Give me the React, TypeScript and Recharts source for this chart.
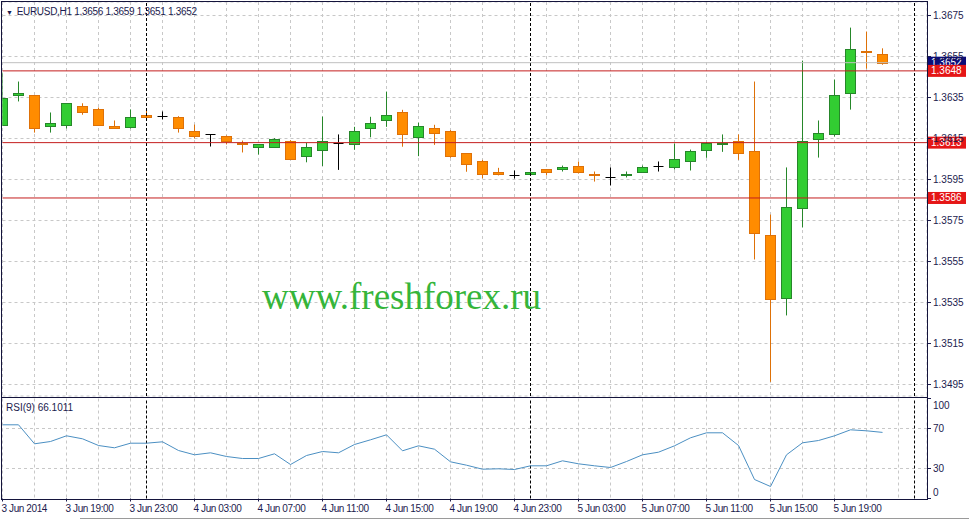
import React from "react";
import {
  ComposedChart,
  Bar,
  Line,
  XAxis,
  YAxis,
  CartesianGrid,
  ReferenceLine,
} from "recharts";

// EURUSD H1, one bar per hour from 3 Jun 15:00 to 5 Jun 22:00
const opens = [
  1.36218, 1.3636, 1.3636, 1.36209, 1.36218, 1.36311, 1.36292, 1.36209, 1.36204, 1.36267,
  1.36262, 1.36257, 1.36189, 1.3617, 1.3616, 1.3613, 1.36111, 1.36111, 1.3614, 1.36067,
  1.36096, 1.36129, 1.36121, 1.36199, 1.36238, 1.36277, 1.36156, 1.36199, 1.36189, 1.36077,
  1.36038, 1.35989, 1.35974, 1.35979, 1.35999, 1.35999, 1.36018, 1.35979, 1.3596, 1.3597,
  1.35989, 1.36018, 1.36009, 1.36038, 1.36096, 1.36121, 1.36138, 1.36087, 1.35677, 1.35374,
  1.35809, 1.3615, 1.3617, 1.3637, 1.36579, 1.3656,
];
const highs = [
  1.36472, 1.36428, 1.36362, 1.36277, 1.36323, 1.36322, 1.36301, 1.36238, 1.36292, 1.3629,
  1.36282, 1.36259, 1.36218, 1.3617, 1.36165, 1.3614, 1.36123, 1.36152, 1.36142, 1.36129,
  1.36257, 1.3617, 1.36207, 1.36256, 1.36379, 1.3629, 1.36227, 1.36217, 1.36191, 1.36079,
  1.36046, 1.36007, 1.35994, 1.35991, 1.36001, 1.36018, 1.36038, 1.35989, 1.36009, 1.35989,
  1.36018, 1.36038, 1.36126, 1.36096, 1.36132, 1.3617, 1.3617, 1.36428, 1.35779, 1.36009,
  1.3653, 1.36238, 1.36438, 1.36691, 1.36672, 1.3659,
];
const lows = [
  1.36213, 1.36331, 1.36179, 1.36179, 1.36199, 1.36266, 1.36216, 1.36198, 1.36199, 1.36255,
  1.36243, 1.36179, 1.3615, 1.36111, 1.36121, 1.36082, 1.36072, 1.36109, 1.36048, 1.36034,
  1.36016, 1.35997, 1.36095, 1.36156, 1.36207, 1.3611, 1.36064, 1.36119, 1.36056, 1.35988,
  1.35956, 1.3597, 1.35955, 1.35974, 1.3597, 1.35989, 1.35979, 1.3594, 1.35921, 1.3596,
  1.35987, 1.35989, 1.35999, 1.35994, 1.36056, 1.36085, 1.36046, 1.3556, 1.34963, 1.35287,
  1.35716, 1.36057, 1.3616, 1.36291, 1.36491, 1.3651,
];
const closes = [
  1.3635, 1.3637, 1.36199, 1.36228, 1.36321, 1.36277, 1.36218, 1.36199, 1.36257, 1.36257,
  1.36262, 1.36199, 1.3616, 1.3617, 1.3614, 1.36121, 1.36121, 1.3615, 1.36052, 1.36111,
  1.3614, 1.36129, 1.36189, 1.36228, 1.36267, 1.3617, 1.36209, 1.36179, 1.36067, 1.36028,
  1.35979, 1.35979, 1.35974, 1.35989, 1.35989, 1.36009, 1.35989, 1.3597, 1.3596, 1.35979,
  1.36009, 1.36018, 1.36048, 1.36087, 1.3613, 1.3613, 1.36077, 1.35687, 1.35365, 1.35818,
  1.3614, 1.36179, 1.3636, 1.36589, 1.3657, 1.3652,
];
const rsi9 = [
  73.7, 73.7, 54.7, 57, 62.7, 59.7, 53, 50.7, 55.3, 55.3,
  56.7, 48, 43.7, 45.7, 42, 40, 40, 44.7, 34, 43,
  47, 45.7, 54, 58.7, 63.7, 47.7, 52.7, 49.3, 36.7, 33.3,
  29.3, 29.7, 29, 32.7, 32.7, 37.7, 34.7, 32.7, 31, 37,
  43.7, 46.3, 52.7, 60.7, 65.7, 65.7, 53, 19, 12, 43.7,
  55.7, 58, 62.7, 68.7, 67.7, 66.1,
];

const timeTickIdx = [0, 4, 8, 12, 16, 20, 24, 28, 32, 36, 40, 44, 48, 52];
const timeTickLabels = [
  "3 Jun 2014", "3 Jun 19:00", "3 Jun 23:00", "4 Jun 03:00", "4 Jun 07:00",
  "4 Jun 11:00", "4 Jun 15:00", "4 Jun 19:00", "4 Jun 23:00", "5 Jun 03:00",
  "5 Jun 07:00", "5 Jun 11:00", "5 Jun 15:00", "5 Jun 19:00",
];
const priceTicks = [1.3675, 1.3655, 1.3635, 1.3615, 1.3595, 1.3575, 1.3555, 1.3535, 1.3515, 1.3495];
const rsiTicks = [0, 30, 70, 100];
const rsiLevels = [30, 70];
const priceLevels = [1.3648, 1.3613, 1.3586];
const bidPrice = 1.3652;
const daySeparators = [9, 33, 57];

const gridIdx = Array.from({ length: 29 }, (_, k) => k * 2);

const data = opens.map((o, i) => ({
  i,
  o,
  h: highs[i],
  l: lows[i],
  c: closes[i],
  range: [lows[i], highs[i]],
  rsi: rsi9[i],
}));

const FONT = '"Liberation Sans", Arial, sans-serif';
const TXT = "#1b1b4e";
const X_DOMAIN: [number, number] = [0, 57.78];
const PRICE_DOMAIN: [number, number] = [1.34894, 1.36816];

const Candle = (props: any) => {
  const { x, y, width, height, payload } = props;
  const { o, h, l, c } = payload;
  const top = Math.min(y, y + height);
  const k = Math.abs(height) / (h - l);
  const py = (v: number) => top + (h - v) * k;
  const cx = Math.floor(x + width / 2) + 0.5;
  if (o === c) {
    const yy = Math.round(py(o)) + 0.5;
    return (
      <g>
        <line x1={cx} x2={cx} y1={py(h)} y2={py(l)} stroke="#000" />
        <line x1={cx - 5} x2={cx + 5} y1={yy} y2={yy} stroke="#000" />
      </g>
    );
  }
  const up = c > o;
  const fill = up ? "#32cd32" : "#ff8c00";
  const edge = up ? "#26872a" : "#de7108";
  const bTop = Math.round(py(Math.max(o, c))) + 0.5;
  const bBot = Math.round(py(Math.min(o, c))) + 0.5;
  return (
    <g>
      <line x1={cx} x2={cx} y1={py(h)} y2={py(l)} stroke={edge} />
      <rect x={cx - 5} y={bTop} width={10} height={Math.max(bBot - bTop, 1)} fill={fill} stroke={edge} />
    </g>
  );
};

const PriceTick = ({ x, y, payload }: any) => (
  <text x={x} y={y} dy="0.35em" fontSize={10} fill={TXT} fontFamily={FONT}>
    {payload.value.toFixed(4)}
  </text>
);

const RsiTick = ({ x, y, payload }: any) => {
  const v = payload.value;
  const dy = v === 100 ? 7 : v === 0 ? -6 : 0;
  return (
    <text x={x} y={y + dy} dy="0.35em" fontSize={10} fill={TXT} fontFamily={FONT}>
      {v}
    </text>
  );
};

const TimeTick = ({ x, y, payload }: any) => {
  const k = timeTickIdx.indexOf(payload.value);
  return (
    <text x={x - 1} y={y} dy={8} fontSize={10} letterSpacing={-0.4} fill={TXT} fontFamily={FONT}>
      {timeTickLabels[k]}
    </text>
  );
};

const tag = (bg: string, text: string) => (props: any) => {
  const vb = props.viewBox;
  const x = vb.x + vb.width + 1;
  const y = vb.y;
  return (
    <g>
      <rect x={x} y={y - 6} width={38} height={12} fill={bg} />
      <text x={x + 3} y={y} dy="0.35em" fontSize={10} fill="#fff" fontFamily={FONT}>
        {text}
      </text>
    </g>
  );
};

const frame = (top: number, height: number): React.CSSProperties => ({
  position: "absolute",
  left: 1,
  top,
  width: 927,
  height,
  border: "1px solid #14143c",
  boxSizing: "border-box",
  pointerEvents: "none",
});

export default function App() {
  return (
    <div style={{ position: "absolute", left: 0, top: 0, width: 969, height: 521, background: "#fff", overflow: "hidden" }}>
      <div style={{ position: "absolute", left: 0, top: 0 }}>
        <ComposedChart width={969} height={397} data={data} margin={{ top: 2, right: 0, bottom: 1, left: 2.5 }}>
          <XAxis xAxisId="t" dataKey="i" type="number" domain={X_DOMAIN} allowDataOverflow hide height={0} />
          <XAxis xAxisId="g" orientation="top" dataKey="i" type="number" domain={X_DOMAIN} ticks={gridIdx} allowDataOverflow hide height={0} />
          <YAxis
            yAxisId="p"
            orientation="right"
            width={42}
            type="number"
            domain={PRICE_DOMAIN}
            allowDataOverflow
            ticks={priceTicks}
            interval={0}
            tick={<PriceTick />}
            tickSize={4}
            tickMargin={2}
            tickLine={{ stroke: TXT }}
            axisLine={false}
          />
          <CartesianGrid xAxisId="g" yAxisId="p" stroke="#c8c8c8" strokeDasharray="3 3" />
          {daySeparators.map((d) => (
            <ReferenceLine key={d} xAxisId="t" yAxisId="p" x={d} stroke="#000" strokeDasharray="3 2" />
          ))}
          <ReferenceLine xAxisId="t" yAxisId="p" y={bidPrice} stroke="#c0c0c0" label={tag("#0c0c78", bidPrice.toFixed(4))} />
          {priceLevels.map((p) => (
            <ReferenceLine key={p} xAxisId="t" yAxisId="p" y={p} stroke="#c41e1e" label={tag("#e51616", p.toFixed(4))} />
          ))}
          <Bar
            xAxisId="t"
            yAxisId="p"
            dataKey="range"
            barSize={10}
            shape={(p: any) => <Candle {...p} />}
            isAnimationActive={false}
          />
        </ComposedChart>
      </div>

      <div style={{ position: "absolute", left: 0, top: 397 }}>
        <ComposedChart width={969} height={124} data={data} margin={{ top: 1.5, right: 0, bottom: 0, left: 2.5 }}>
          <XAxis
            xAxisId="t"
            dataKey="i"
            type="number"
            domain={X_DOMAIN}
            allowDataOverflow
            ticks={timeTickIdx}
            interval={0}
            tick={<TimeTick />}
            tickSize={3}
            tickMargin={2}
            tickLine={{ stroke: TXT }}
            axisLine={false}
            height={22.5}
          />
          <XAxis xAxisId="g" orientation="top" dataKey="i" type="number" domain={X_DOMAIN} ticks={gridIdx} allowDataOverflow hide height={0} />
          <YAxis
            yAxisId="r"
            orientation="right"
            width={42}
            type="number"
            domain={[0, 100]}
            allowDataOverflow
            ticks={rsiTicks}
            interval={0}
            tick={<RsiTick />}
            tickSize={4}
            tickMargin={2}
            tickLine={{ stroke: TXT }}
            axisLine={false}
          />
          <CartesianGrid xAxisId="g" yAxisId="r" horizontal={false} stroke="#c8c8c8" strokeDasharray="3 3" />
          {rsiLevels.map((v) => (
            <ReferenceLine key={v} xAxisId="t" yAxisId="r" y={v} stroke="#c8c8c8" strokeDasharray="3 3" />
          ))}
          {daySeparators.map((d) => (
            <ReferenceLine key={d} xAxisId="t" yAxisId="r" x={d} stroke="#000" strokeDasharray="3 2" />
          ))}
          <Line
            xAxisId="t"
            yAxisId="r"
            type="linear"
            dataKey="rsi"
            stroke="#4b8fc2"
            strokeWidth={1}
            dot={false}
            isAnimationActive={false}
          />
        </ComposedChart>
      </div>

      <div style={frame(1, 397)} />
      <div style={frame(397, 103)} />

      <div style={{ position: "absolute", left: 6, top: 6, fontFamily: FONT, fontSize: 10, letterSpacing: -0.3, color: TXT, whiteSpace: "pre", lineHeight: "12px" }}>
        <span style={{ fontSize: 7, marginRight: 4 }}>▼</span>EURUSD,H1 1.3656 1.3659 1.3651 1.3652
      </div>
      <div style={{ position: "absolute", left: 6, top: 402, fontFamily: FONT, fontSize: 10, color: TXT, lineHeight: "12px" }}>
        RSI(9) 66.1011
      </div>
      <div
        style={{
          position: "absolute",
          left: 262,
          top: 279,
          fontFamily: '"Liberation Serif", "Times New Roman", serif',
          fontSize: 37,
          lineHeight: "36px",
          color: "#35b53a",
          whiteSpace: "nowrap",
        }}
      >
        www.freshforex.ru
      </div>
      <div style={{ position: "absolute", left: 80, top: 518, width: 889, height: 1, background: "#9a9a9a" }} />
    </div>
  );
}
